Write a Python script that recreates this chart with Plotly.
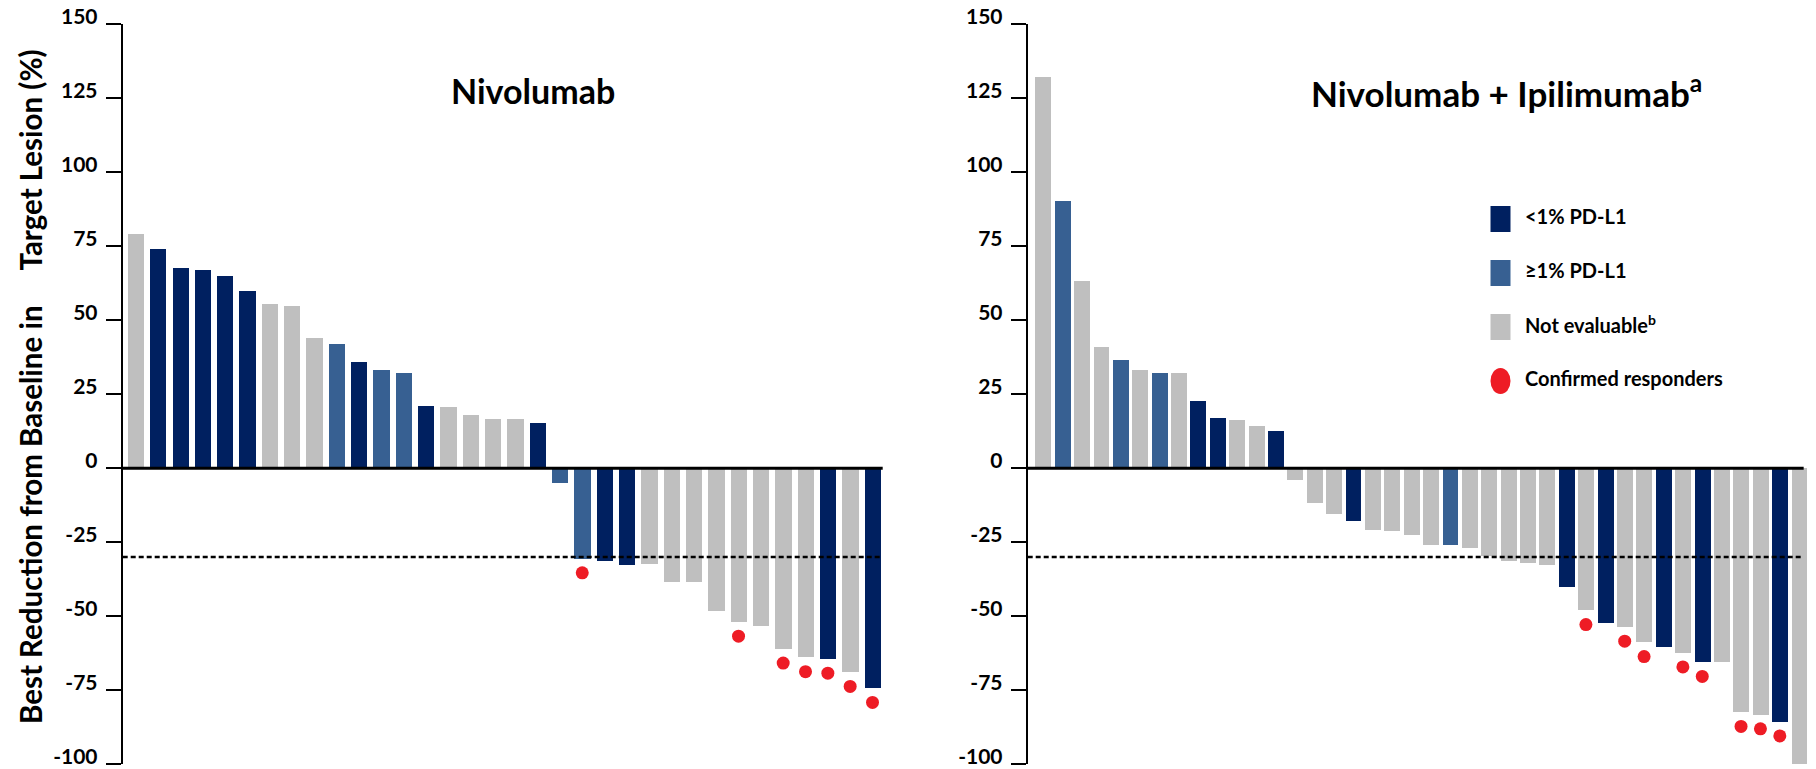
import plotly.graph_objects as go

W, H = 1816, 769

# Best % change from baseline in target lesions, one entry per patient (waterfall order)
nivo_change = [79.0, 73.9, 67.6, 66.9, 64.8, 59.8, 55.5, 54.8, 43.8, 41.9,
               35.7, 33.1, 32.2, 21.1, 20.7, 17.9, 16.7, 16.7, 15.2,
               -5.1, -30.6, -31.5, -32.7, -32.4, -38.6, -38.6, -48.4, -52.0,
               -53.5, -61.1, -64.0, -64.5, -69.0, -74.4]
# PD-L1 status per patient: lo = <1%, hi = >=1%, ne = not evaluable
nivo_pdl1 = ["ne", "lo", "lo", "lo", "lo", "lo", "ne", "ne", "ne", "hi",
             "lo", "hi", "hi", "lo", "ne", "ne", "ne", "ne", "lo",
             "hi", "hi", "lo", "lo", "ne", "ne", "ne", "ne", "ne",
             "ne", "ne", "ne", "lo", "ne", "lo"]
# positions (0-based) of confirmed responders
nivo_responders = [20, 27, 29, 30, 31, 32, 33]

combo_change = [132.1, 90.1, 63.1, 41.0, 36.4, 33.1, 32.2, 32.2, 22.5, 17.0,
                16.2, 14.1, 12.6,
                -4.2, -11.9, -15.5, -17.9, -21.1, -21.4, -22.7, -25.9, -25.9,
                -27.1, -29.6, -31.5, -32.1, -32.9, -40.3, -48.1, -52.3, -53.7,
                -58.9, -60.6, -62.4, -65.6, -65.7, -82.5, -83.3, -85.7, -100.0]
combo_pdl1 = ["ne", "hi", "ne", "ne", "hi", "ne", "hi", "ne", "lo", "lo",
              "ne", "ne", "lo",
              "ne", "ne", "ne", "lo", "ne", "ne", "ne", "ne", "hi",
              "ne", "ne", "ne", "ne", "ne", "lo", "ne", "lo", "ne",
              "ne", "lo", "ne", "lo", "ne", "ne", "ne", "lo", "ne"]
combo_responders = [28, 30, 31, 33, 34, 36, 37, 38]

response_threshold = -30
y_ticks = [-100, -75, -50, -25, 0, 25, 50, 75, 100, 125, 150]
y_tick_text = ["-100", "-75", "-50", "-25", "0", "25", "50", "75", "100", "125", "150"]

group_colors = {"lo": "#002060", "hi": "#376092", "ne": "#BFBFBF"}
legend_labels = ["<1% PD-L1", "≥1% PD-L1", "Not evaluable<sup>b</sup>", "Confirmed responders"]
legend_keys = ["lo", "hi", "ne", "resp"]
dot_color = "#EE1C25"

FONT = "Lato, 'Open Sans', sans-serif"
DOT_GAP = 4.7  # vertical spacing between bar end and responder dot (data units)

fig = go.Figure()

panels = [
    (nivo_change, nivo_pdl1, nivo_responders, "x", "y", 0.73),
    (combo_change, combo_pdl1, combo_responders, "x2", "y2", 0.82),
]
for change, pdl1, resp, xa, ya, bw in panels:
    idx = list(range(len(change)))
    fig.add_trace(go.Bar(
        x=idx, y=change, width=bw,
        marker=dict(color=[group_colors[g] for g in pdl1], line=dict(width=0)),
        xaxis=xa, yaxis=ya, showlegend=False,
    ))
    fig.add_trace(go.Scatter(
        x=resp, y=[change[i] - DOT_GAP for i in resp], mode="markers",
        marker=dict(symbol="circle", size=13, color=dot_color, line=dict(width=0)),
        xaxis=xa, yaxis=ya, showlegend=False, cliponaxis=False,
    ))

y_dom = [(H - 764.3) / H, (H - 24.3) / H]
yaxis_style = dict(
    range=[-100, 150], domain=y_dom, showline=True, linewidth=2, linecolor="black",
    ticks="outside", ticklen=15, tickwidth=2, tickcolor="black",
    tickvals=y_ticks, ticktext=y_tick_text, ticklabelshift=-8, ticklabelstandoff=4,
    ticklabeloverflow="allow",
    tickfont=dict(family=FONT, size=21, color="black", weight="bold"),
    showgrid=False, zeroline=False, fixedrange=True, automargin=False,
)
xaxis_style = dict(visible=False, showgrid=False, zeroline=False, fixedrange=True,
                   automargin=False)

fig.update_layout(
    width=W, height=H, margin=dict(l=0, r=0, t=0, b=0, pad=0),
    paper_bgcolor="white", plot_bgcolor="white", bargap=0,
    xaxis=dict(xaxis_style, domain=[122.7 / W, 882.7 / W], range=[-0.582, 33.457], anchor="y"),
    yaxis=dict(yaxis_style, anchor="x"),
    xaxis2=dict(xaxis_style, domain=[1027.7 / W, 1808.9 / W], range=[-0.789, 39.5], anchor="y2"),
    yaxis2=dict(yaxis_style, anchor="x2"),
)

shapes = []
for xd, end in [("x domain", 1.0), ("x2 domain", 0.9933)]:
    yr = "y" if xd.startswith("x ") else "y2"
    shapes.append(dict(type="line", xref=xd, yref=yr, x0=0, x1=end, y0=0, y1=0,
                       line=dict(color="black", width=3), layer="above"))
    shapes.append(dict(type="line", xref=xd, yref=yr, x0=0, x1=end,
                       y0=response_threshold, y1=response_threshold,
                       line=dict(color="black", width=2.5, dash="5px,3px"), layer="above"))

# legend swatches
lx0, lx1 = 1490.5 / W, 1510.5 / W
for k, key in enumerate(legend_keys):
    top = 206 + 54 * k
    y0p, y1p = 1 - (top + 26) / H, 1 - top / H
    if key == "resp":
        shapes.append(dict(type="circle", xref="paper", yref="paper", x0=lx0, x1=lx1,
                           y0=y0p, y1=y1p, fillcolor=dot_color, line=dict(width=0)))
    else:
        shapes.append(dict(type="rect", xref="paper", yref="paper", x0=lx0, x1=lx1,
                           y0=y0p, y1=y1p, fillcolor=group_colors[key], line=dict(width=0)))
fig.update_layout(shapes=shapes)

annotations = [
    dict(text="Nivolumab", x=532.5 / W, y=1 - 91 / H, xref="paper", yref="paper",
         xanchor="center", yanchor="middle", showarrow=False,
         font=dict(family=FONT, size=34, color="black", weight="bold")),
    dict(text="Nivolumab + Ipilimumab<sup>a</sup>", x=1506 / W, y=1 - 91 / H,
         xref="paper", yref="paper", xanchor="center", yanchor="middle", showarrow=False,
         font=dict(family=FONT, size=35, color="black", weight="bold")),
    dict(text="Best Reduction from Baseline in     Target Lesion (%)", x=30 / W, y=1 - 387 / H,
         xref="paper", yref="paper", xanchor="center", yanchor="middle", showarrow=False,
         textangle=-90, font=dict(family=FONT, size=29.5, color="black", weight="bold")),
]
for k, lab in enumerate(legend_labels):
    annotations.append(dict(text=lab, x=1522.7 / W, y=1 - (216 + 54 * k) / H,
                            xref="paper", yref="paper", xanchor="left", yanchor="middle",
                            showarrow=False,
                            font=dict(family=FONT, size=20, color="black", weight="bold")))
fig.update_layout(annotations=annotations)

fig.write_html("out.html")
